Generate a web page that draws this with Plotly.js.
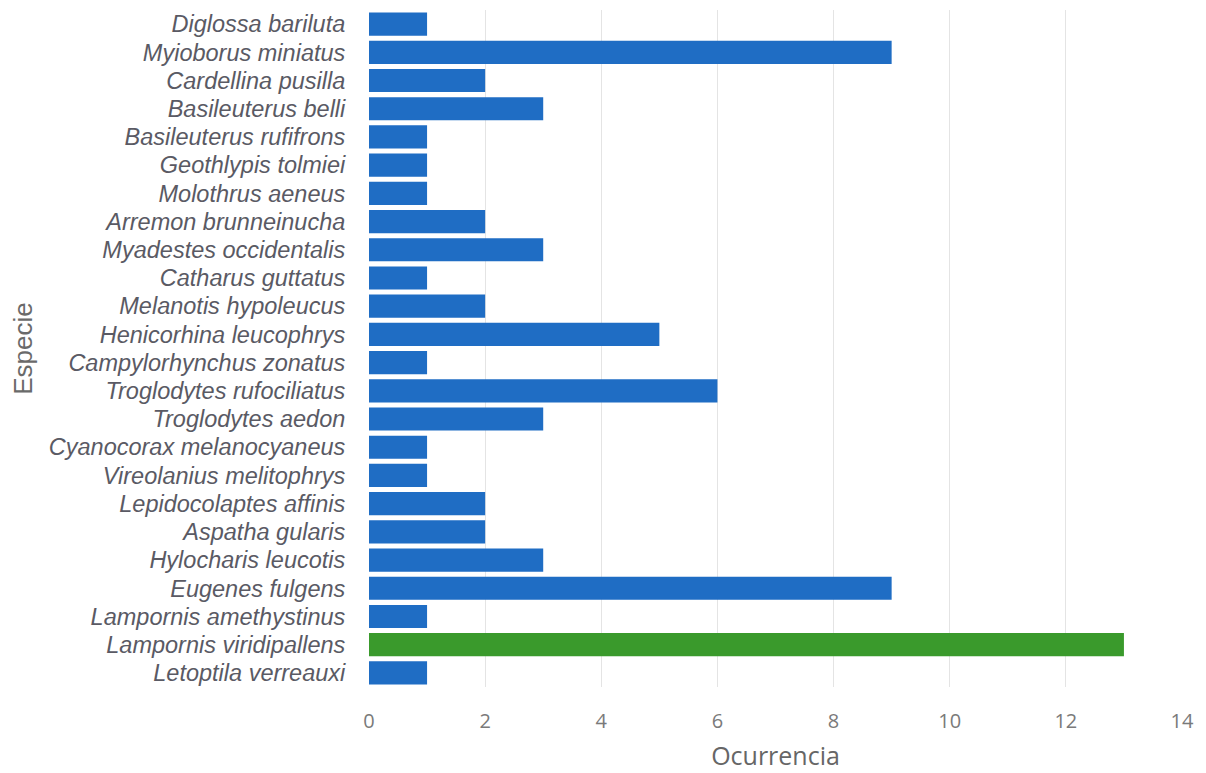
<!DOCTYPE html>
<html><head><meta charset="utf-8">
<script src="https://cdn.plot.ly/plotly-3.0.1.min.js"></script>
<style>html,body{margin:0;padding:0;background:#fff}#chart{width:1206px;height:773px}</style>
</head><body><div id="chart"></div>
<script>
const species = ["Diglossa bariluta","Myioborus miniatus","Cardellina pusilla","Basileuterus belli","Basileuterus rufifrons","Geothlypis tolmiei","Molothrus aeneus","Arremon brunneinucha","Myadestes occidentalis","Catharus guttatus","Melanotis hypoleucus","Henicorhina leucophrys","Campylorhynchus zonatus","Troglodytes rufociliatus","Troglodytes aedon","Cyanocorax melanocyaneus","Vireolanius melitophrys","Lepidocolaptes affinis","Aspatha gularis","Hylocharis leucotis","Eugenes fulgens","Lampornis amethystinus","Lampornis viridipallens","Letoptila verreauxi"];
const occurrences = [1,9,2,3,1,1,1,2,3,1,2,5,1,6,3,1,1,2,2,3,9,1,13,1];
const highlighted = "Lampornis viridipallens";
const colors = species.map(s => s === highlighted ? "#3a9a2c" : "#1f6dc4");

Plotly.newPlot("chart", [{
  type: "bar", orientation: "h",
  x: occurrences, y: species,
  marker: {color: colors},
  hoverinfo: "x+y"
}], {
  width: 1206, height: 773,
  margin: {l: 369, r: 24, t: 10, b: 86},
  paper_bgcolor: "#fff", plot_bgcolor: "#fff",
  bargap: 0.18,
  showlegend: false,
  xaxis: {
    range: [0, 14], dtick: 2, tick0: 0,
    showgrid: true, gridcolor: "#e4e4e4", zeroline: false,
    showline: false,
    tickfont: {family: "Open Sans", size: 20, color: "#7a7a7a"},
    ticks: "outside", ticklen: 16, tickcolor: "rgba(0,0,0,0)",
    title: {text: "Ocurrencia", font: {family: "Open Sans", size: 25, color: "#666"}, standoff: 14}
  },
  yaxis: {
    type: "category", autorange: "reversed",
    tickmode: "array", tickvals: species, ticktext: species,
    showgrid: false, zeroline: false, showline: false,
    ticks: "outside", ticklen: 18, tickcolor: "rgba(0,0,0,0)",
    tickfont: {family: "Liberation Sans, Arial, sans-serif", size: 23.5, color: "#5a5a64", style: "italic"},
    title: {text: "Especie", font: {family: "Liberation Sans, Arial, sans-serif", size: 26, color: "#6a6a6a"}, standoff: 8}
  },
  font: {family: "Liberation Sans"}
}, {displayModeBar: false});
</script></body></html>
